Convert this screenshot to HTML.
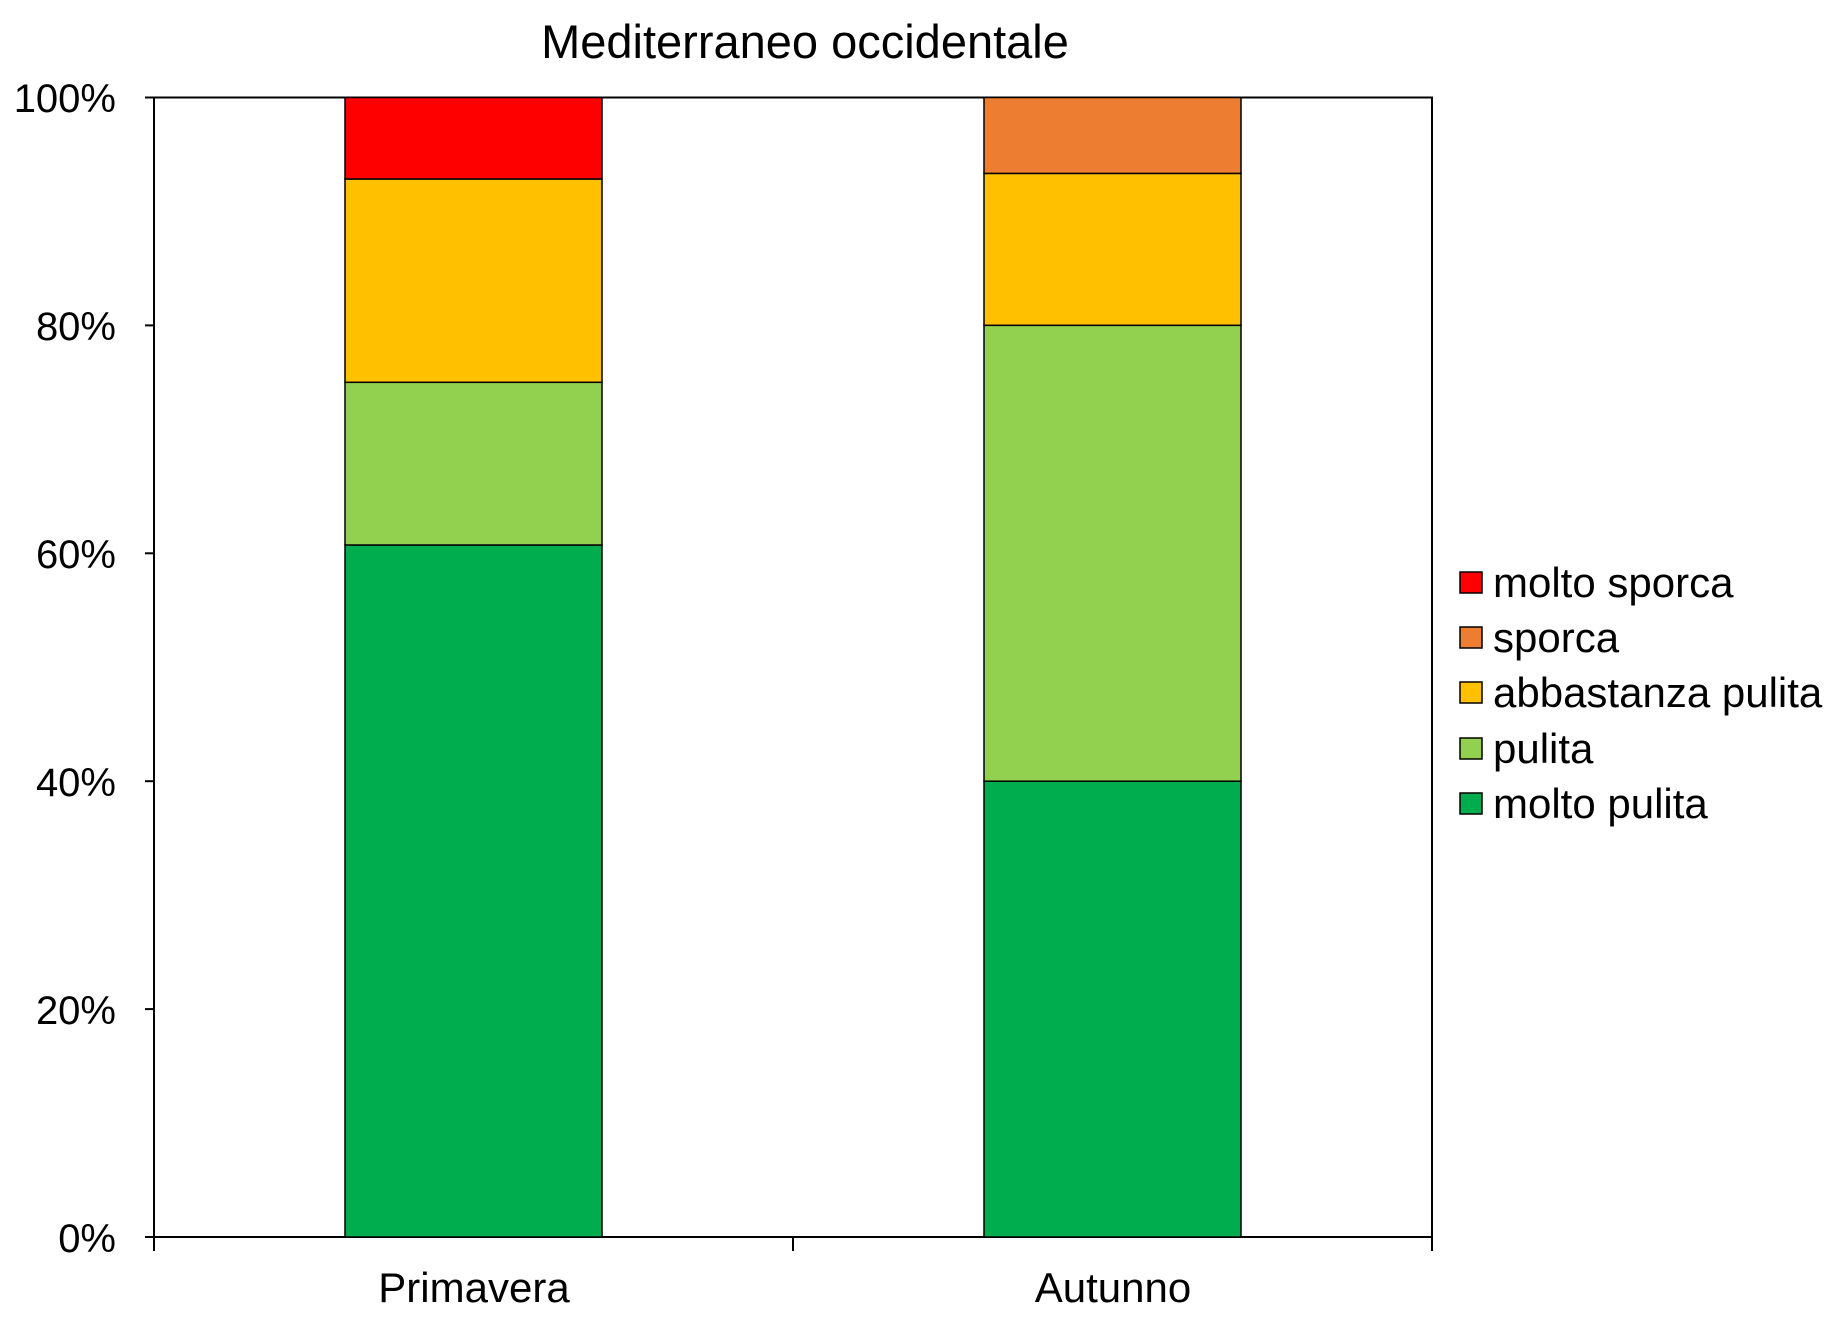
<!DOCTYPE html>
<html><head><meta charset="utf-8"><style>
html,body{margin:0;padding:0;background:#fff;}
</style></head><body>
<svg width="1840" height="1319" xmlns="http://www.w3.org/2000/svg" font-family="Liberation Sans, Arial, sans-serif">
<rect width="1840" height="1319" fill="#fff"/>
<text x="805" y="58" font-size="47" text-anchor="middle">Mediterraneo occidentale</text>
<rect x="154" y="97.5" width="1278" height="1139.5" fill="none" stroke="#000" stroke-width="2"/>
<g stroke="#000" stroke-width="1.5">
<rect x="345" y="545" width="257" height="692" fill="#00AD4E"/>
<rect x="345" y="382.3" width="257" height="162.7" fill="#92D050"/>
<rect x="345" y="179" width="257" height="203.3" fill="#FFC000"/>
<rect x="345" y="97.5" width="257" height="81.5" fill="#FF0000"/>
<rect x="984" y="781.2" width="257" height="455.8" fill="#00AD4E"/>
<rect x="984" y="325.3" width="257" height="455.9" fill="#92D050"/>
<rect x="984" y="173.4" width="257" height="151.9" fill="#FFC000"/>
<rect x="984" y="97.5" width="257" height="75.9" fill="#ED7D31"/>
</g>
<g stroke="#000" stroke-width="2">
<line x1="145" y1="97.5" x2="154" y2="97.5"/><line x1="145" y1="325.4" x2="154" y2="325.4"/>
<line x1="145" y1="553.3" x2="154" y2="553.3"/><line x1="145" y1="781.2" x2="154" y2="781.2"/>
<line x1="145" y1="1009.1" x2="154" y2="1009.1"/><line x1="145" y1="1237" x2="154" y2="1237"/>
<line x1="154" y1="1237" x2="154" y2="1251"/><line x1="793" y1="1237" x2="793" y2="1251"/><line x1="1432" y1="1237" x2="1432" y2="1251"/>
</g>
<g font-size="40" text-anchor="end">
<text x="116" y="112">100%</text><text x="116" y="340">80%</text><text x="116" y="568">60%</text>
<text x="116" y="796">40%</text><text x="116" y="1024">20%</text><text x="116" y="1252">0%</text>
</g>
<g font-size="42" text-anchor="middle">
<text x="474" y="1302">Primavera</text><text x="1113" y="1302">Autunno</text>
</g>
<g stroke="#000" stroke-width="1.5">
<rect x="1460" y="572" width="22" height="21" fill="#FF0000"/>
<rect x="1460" y="627" width="22" height="21" fill="#ED7D31"/>
<rect x="1460" y="682" width="22" height="21" fill="#FFC000"/>
<rect x="1460" y="738" width="22" height="21" fill="#92D050"/>
<rect x="1460" y="793" width="22" height="21" fill="#00AD4E"/>
</g>
<g font-size="42">
<text x="1493" y="597">molto sporca</text>
<text x="1493" y="652">sporca</text>
<text x="1493" y="707">abbastanza pulita</text>
<text x="1493" y="763">pulita</text>
<text x="1493" y="818">molto pulita</text>
</g>
</svg>
</body></html>
